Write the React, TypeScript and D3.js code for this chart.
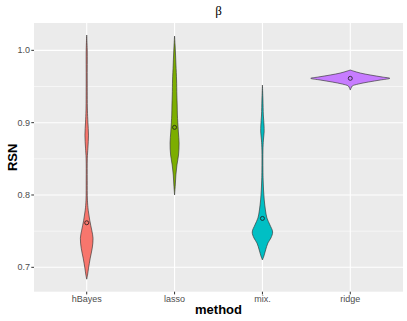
import React from "react";
import * as d3 from "d3";

// categories and colours (ggplot default hue palette)
const methods = ["hBayes", "lasso", "mix.", "ridge"];
const fills = ["#F8766D", "#7CAE00", "#00BFC4", "#C77CFF"];

// y axis ticks
const yTicks = [0.7, 0.8, 0.9, 1.0];
const yMinor = [0.75, 0.85, 0.95];

// violin profiles: [RSN value, relative half-width]
const hBayesViolin: [number, number][] = [
  [1.0212, 0], [1.0004, 0.013], [0.9589, 0.013], [0.9174, 0.018], [0.9008, 0.03],
  [0.8828, 0.045], [0.8648, 0.03], [0.8509, 0.015], [0.8205, 0.013], [0.7929, 0.018],
  [0.779, 0.038], [0.7652, 0.076], [0.7514, 0.127], [0.7403, 0.16], [0.7265, 0.139],
  [0.7127, 0.089], [0.6988, 0.046], [0.6891, 0.02], [0.6836, 0],
];
const lassoViolin: [number, number][] = [
  [1.0198, 0], [1.0073, 0.013], [0.9935, 0.025], [0.9797, 0.035], [0.959, 0.051],
  [0.9382, 0.058], [0.9244, 0.066], [0.9106, 0.071], [0.9009, 0.081], [0.8871, 0.096],
  [0.8719, 0.114], [0.8553, 0.1], [0.8415, 0.06], [0.8277, 0.033], [0.8138, 0.018],
  [0.8, 0],
];
const mixViolin: [number, number][] = [
  [0.952, 0], [0.9313, 0.013], [0.9106, 0.023], [0.8968, 0.04], [0.8871, 0.043],
  [0.876, 0.025], [0.8622, 0.013], [0.8346, 0.013], [0.8207, 0.018], [0.8069, 0.028],
  [0.7931, 0.046], [0.7793, 0.076], [0.7682, 0.114], [0.7586, 0.19], [0.7489, 0.258],
  [0.7406, 0.215], [0.7337, 0.139], [0.724, 0.081], [0.7157, 0.038], [0.7102, 0],
];
const ridgeViolin: [number, number][] = [
  [0.9728, 0], [0.9714, 0.076], [0.9686, 0.253], [0.9659, 0.506], [0.9631, 0.81],
  [0.9613, 1.0], [0.959, 0.76], [0.9562, 0.456], [0.9534, 0.2], [0.9507, 0.05],
  [0.9479, 0.02], [0.9451, 0],
];
const violins = [hBayesViolin, lassoViolin, mixViolin, ridgeViolin];

// means shown as circles
const means = [0.7616, 0.8935, 0.7676, 0.9613];

const W = 407;
const H = 321;
const panel = { left: 34, right: 403, top: 23, bottom: 291.7 };

export default function App() {
  const x = d3
    .scalePoint<string>()
    .domain(methods)
    .range([panel.left, panel.right])
    .padding(0.6);
  const y = d3
    .scaleLinear()
    .domain([0.6663, 1.0378])
    .range([panel.bottom, panel.top]);
  const halfMax = x.step() * 0.45;

  const violinPath = (cx: number, prof: [number, number][]) =>
    d3
      .area<[number, number]>()
      .y((d) => y(d[0]))
      .x0((d) => cx - d[1] * halfMax)
      .x1((d) => cx + d[1] * halfMax)
      .curve(d3.curveCatmullRom.alpha(0.5))(prof) || "";

  const sans = "'Liberation Sans', Arial, sans-serif";

  return (
    <svg
      width={W}
      height={H}
      style={{ position: "absolute", left: 0, top: 0, background: "#fff" }}
    >
      <rect
        x={panel.left}
        y={panel.top}
        width={panel.right - panel.left}
        height={panel.bottom - panel.top}
        fill="#EBEBEB"
      />
      {yMinor.map((t) => (
        <line key={"mn" + t} x1={panel.left} x2={panel.right} y1={y(t)} y2={y(t)} stroke="#fff" strokeWidth={0.55} />
      ))}
      {yTicks.map((t) => (
        <line key={"mj" + t} x1={panel.left} x2={panel.right} y1={y(t)} y2={y(t)} stroke="#fff" strokeWidth={1.07} />
      ))}
      {methods.map((m) => (
        <line key={"vx" + m} x1={x(m)} x2={x(m)} y1={panel.top} y2={panel.bottom} stroke="#fff" strokeWidth={1.07} />
      ))}

      {methods.map((m, i) => (
        <g key={"v" + m}>
          <path d={violinPath(x(m)!, violins[i])} fill={fills[i]} stroke="#333333" strokeWidth={0.65} />
          <circle cx={x(m)} cy={y(means[i])} r={2} fill="none" stroke="#1a1a1a" strokeWidth={0.8} />
        </g>
      ))}

      {yTicks.map((t) => (
        <g key={"yt" + t}>
          <line x1={panel.left - 2.7} x2={panel.left} y1={y(t)} y2={y(t)} stroke="#333333" strokeWidth={1} />
          <text x={panel.left - 4} y={y(t)} dy="0.35em" textAnchor="end" fontFamily={sans} fontSize={9} fill="#4D4D4D">
            {d3.format(".1f")(t)}
          </text>
        </g>
      ))}
      {methods.map((m) => (
        <g key={"xt" + m}>
          <line x1={x(m)} x2={x(m)} y1={panel.bottom} y2={panel.bottom + 2.7} stroke="#333333" strokeWidth={1} />
          <text x={x(m)} y={panel.bottom + 9.8} textAnchor="middle" fontFamily={sans} fontSize={9} fill="#4D4D4D">
            {m}
          </text>
        </g>
      ))}

      <text
        x={(panel.left + panel.right) / 2}
        y={314.3}
        textAnchor="middle"
        fontFamily={sans}
        fontWeight="bold"
        fontSize={13}
        fill="#000"
      >
        method
      </text>
      <text
        transform={`translate(16.5,${(panel.top + panel.bottom) / 2}) rotate(-90)`}
        textAnchor="middle"
        fontFamily={sans}
        fontWeight="bold"
        fontSize={13}
        fill="#000"
      >
        RSN
      </text>
      <text
        x={(panel.left + panel.right) / 2}
        y={15}
        textAnchor="middle"
        fontFamily="'Liberation Serif', serif"
        fontSize={13}
        fill="#000"
      >
        β
      </text>
    </svg>
  );
}
